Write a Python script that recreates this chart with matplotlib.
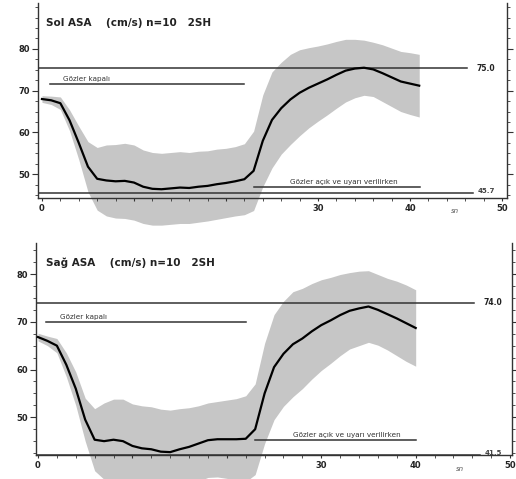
import numpy as np
import matplotlib
matplotlib.use("Agg")
import matplotlib.pyplot as plt
from matplotlib.ticker import MultipleLocator

# --- datos (segundos, cm/s) ---
t_sol = np.arange(0, 42)
sol_media = [68.0, 67.7, 67.0, 62.9, 57.5, 51.8, 48.9, 48.5, 48.3, 48.4,
             48.0, 47.0, 46.5, 46.4, 46.6, 46.8, 46.7, 47.0, 47.2, 47.6,
             47.9, 48.3, 48.8, 50.8, 58.0, 63.0, 65.8, 67.9, 69.5, 70.7,
             71.7, 72.7, 73.8, 74.8, 75.3, 75.5, 75.1, 74.2, 73.2, 72.2,
             71.7, 71.2]
sol_sd = [0.8, 1.0, 1.5, 2.5, 4.0, 6.0, 7.5, 8.5, 8.8, 9.0,
          9.0, 8.8, 8.7, 8.6, 8.6, 8.6, 8.5, 8.5, 8.4, 8.4,
          8.3, 8.3, 8.5, 9.5, 11.0, 11.5, 11.0, 10.8, 10.3, 9.6,
          9.0, 8.5, 8.0, 7.5, 7.0, 6.6, 6.5, 6.8, 7.0, 7.2,
          7.4, 7.5]

t_sag = np.arange(0, 41)
sag_media = [66.8, 66.0, 65.0, 61.0, 56.0, 49.5, 45.3, 45.0, 45.3, 45.0,
             44.0, 43.5, 43.3, 42.8, 42.7, 43.3, 43.8, 44.5, 45.2, 45.4,
             45.4, 45.4, 45.5, 47.5, 55.0, 60.5, 63.3, 65.3, 66.5, 68.0,
             69.3, 70.3, 71.4, 72.3, 72.8, 73.2, 72.5, 71.6, 70.7, 69.7,
             68.7]
sag_sd = [0.8, 1.0, 1.5, 2.5, 3.5, 4.5, 6.5, 8.0, 8.5, 8.8,
          8.8, 8.9, 8.9, 8.9, 8.8, 8.5, 8.2, 7.9, 7.8, 7.9,
          8.2, 8.5, 9.0, 9.5, 10.5, 11.0, 11.0, 11.0, 10.5, 10.0,
          9.5, 9.0, 8.5, 8.0, 7.8, 7.5, 7.4, 7.5, 7.8, 8.0,
          8.0]

paneles = [
    dict(titulo="Sol ASA    (cm/s) n=10   2SH", t=t_sol, media=sol_media, sd=sol_sd,
         ref_alta=75.4, ref_baja=45.5, lbl_alta="75.0", lbl_baja="45.7",
         kapali=71.6, acik=46.9, acik_fin=41.1, tit_x=0.016, tit_y=0.90,
         pos=[38/516, 1-198/479, 469/516, 195/479], xlim=(-0.43, 50.54), ylim=(44.3, 91)),
    dict(titulo="Sağ ASA    (cm/s) n=10   2SH", t=t_sag, media=sag_media, sd=sag_sd,
         ref_alta=74.0, ref_baja=42.2, lbl_alta="74.0", lbl_baja="41.5",
         kapali=70.0, acik=45.2, acik_fin=40.0, tit_x=0.02, tit_y=0.905,
         pos=[36/516, 1-455/479, 476/516, 212/479], xlim=(-0.21, 50.2), ylim=(42.1, 86.5)),
]

fig = plt.figure(figsize=(5.16, 4.79), dpi=100)

for p in paneles:
    ax = fig.add_axes(p["pos"])
    media = np.array(p["media"])
    sd = np.array(p["sd"])

    # banda de desviacion (sale por debajo del eje como en el original)
    ax.fill_between(p["t"], media - sd, media + sd, color="#c6c6c6",
                    linewidth=0, clip_on=False, zorder=1)
    ax.plot(p["t"], media, color="black", linewidth=1.6, zorder=5)

    # lineas de referencia
    ax.plot([p["xlim"][0], 46.2], [p["ref_alta"]] * 2, color="#333333", lw=1.1, zorder=4)
    ax.plot([p["xlim"][0], 46.8], [p["ref_baja"]] * 2, color="#333333", lw=1.1, zorder=4)
    ax.text(47.2, p["ref_alta"], p["lbl_alta"], fontsize=5.5, fontweight="bold",
            va="center", ha="left", color="#222222")
    ax.text(47.3, p["ref_baja"] + 0.4, p["lbl_baja"], fontsize=5, fontweight="bold",
            va="center", ha="left", color="#444444")

    # periodos
    ax.plot([0.9, 22.0], [p["kapali"]] * 2, color="#333333", lw=1.1, zorder=4)
    ax.text(2.3, p["kapali"] + 0.4, "Gözler kapalı", fontsize=5.2,
            va="bottom", ha="left", color="#333333")
    ax.plot([23.0, p["acik_fin"]], [p["acik"]] * 2, color="#333333", lw=1.1, zorder=4)
    ax.text(27.0, p["acik"] + 0.5, "Gözler açık ve uyarı verilirken", fontsize=5.2,
            va="bottom", ha="left", color="#333333")

    ax.text(p["tit_x"], p["tit_y"], p["titulo"], transform=ax.transAxes, fontsize=7.5,
            fontweight="bold", va="center", ha="left", color="#222222")
    ax.text(0.89, -0.05, "sn", transform=ax.transAxes, fontsize=5,
            style="italic", va="top", ha="center", color="#555555")

    ax.set_xlim(p["xlim"])
    ax.set_ylim(p["ylim"])
    ax.set_xticks([0, 10, 20, 30, 40, 50])
    ax.set_xticklabels(["0", "", "", "30", "40", "50"])
    ax.set_yticks([50, 60, 70, 80])
    ax.xaxis.set_minor_locator(MultipleLocator(2))
    ax.yaxis.set_minor_locator(MultipleLocator(2.5))
    ax.tick_params(axis="both", which="both", labelsize=6, color="#333333",
                   labelcolor="#222222", pad=2)
    ax.tick_params(axis="y", which="major", length=4)
    ax.tick_params(axis="y", which="minor", length=2.5)
    ax.tick_params(axis="x", which="both", length=2)
    ax.tick_params(axis="y", which="both", right=True, direction="out")
    for lab in ax.get_xticklabels() + ax.get_yticklabels():
        lab.set_fontweight("bold")
    ax.spines["top"].set_visible(False)
    for s in ["left", "bottom", "right"]:
        ax.spines[s].set_color("#333333")
        ax.spines[s].set_linewidth(1.0)
    ax.patch.set_alpha(0)

fig.savefig("out.png", dpi=100)
